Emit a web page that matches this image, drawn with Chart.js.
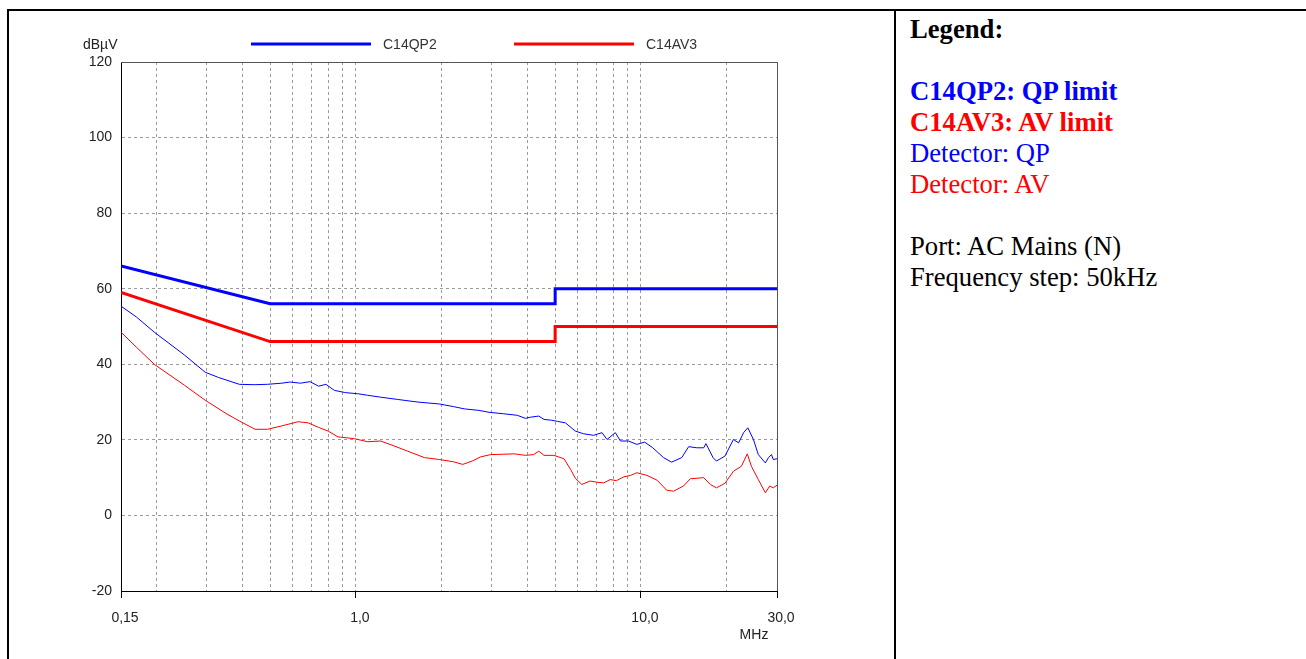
<!DOCTYPE html>
<html>
<head>
<meta charset="utf-8">
<script src="https://cdn.jsdelivr.net/npm/chart.js@4/dist/chart.umd.min.js"></script>
<style>
  body { margin: 0; background: #fff; width: 1306px; height: 659px; overflow: hidden; position: relative; }
  #wrap { position: absolute; left: 0; top: 0; width: 894px; height: 659px; }
  .rule { position: absolute; background: #000; }
  #notes {
    position: absolute; left: 910px; top: 14px;
    font-family: "Liberation Serif", "Times New Roman", serif;
    font-size: 26.67px; line-height: 31px; color: #000; white-space: nowrap;
  }
  #notes b { font-weight: bold; }
</style>
</head>
<body>
<div id="wrap"><canvas id="chart"></canvas></div>
<div class="rule" style="left:7px; top:9px; width:1299px; height:2px;"></div>
<div class="rule" style="left:7px; top:9px; width:2px; height:650px;"></div>
<div class="rule" style="left:894px; top:9px; width:2px; height:650px;"></div>
<div id="notes">
  <b>Legend:</b><br><br>
  <b style="color:#0000ff">C14QP2: QP limit</b><br>
  <b style="color:#ff0000">C14AV3: AV limit</b><br>
  <span style="color:#0000ff">Detector: QP</span><br>
  <span style="color:#ff0000">Detector: AV</span><br><br>
  Port: AC Mains (N)<br>
  Frequency step: 50kHz
</div>
<script>
// limit lines (MHz / dBµV)
const limitFreq = [0.15, 0.5, 5, 5, 30];
const qpLimit = [66, 56, 56, 60, 60];
const avLimit = [59, 46, 46, 50, 50];

// measured, quasi-peak detector
const qpFreq = [0.15, 0.17, 0.197, 0.25, 0.296, 0.33, 0.39, 0.44, 0.49, 0.55, 0.586, 0.64, 0.69, 0.74, 0.785, 0.84, 0.92,
  1.016, 1.1, 1.22, 1.4, 1.65, 1.96, 2.2, 2.4, 2.7, 2.93, 3.3, 3.68, 3.93, 4.1, 4.38, 4.57, 4.85, 5.09, 5.43, 5.89, 6.3,
  6.82, 7.3, 7.6, 8.13, 8.47, 9.04, 9.67, 10.3, 11.0, 12.0, 12.8, 13.9, 14.7, 15.7, 16.6, 16.9, 17.9, 18.4, 19.7, 21.1,
  22.0, 22.9, 23.7, 24.8, 25.8, 27.3, 28.0, 28.7, 29.1, 30];
const qpLevel = [55.4, 52.5, 48.4, 42.5, 37.9, 36.5, 34.7, 34.6, 34.7, 35.0, 35.3, 35.0, 35.4, 34.2, 34.7, 33.1, 32.5,
  32.2, 31.8, 31.3, 30.7, 30.0, 29.5, 28.8, 28.2, 27.8, 27.3, 26.9, 26.5, 25.7, 26.0, 26.3, 25.4, 25.2, 24.9, 24.5, 22.3, 21.6,
  21.2, 21.9, 20.1, 21.9, 19.7, 19.7, 18.8, 19.4, 17.9, 15.3, 14.1, 15.3, 18.2, 17.9, 17.9, 19.0, 15.3, 14.4, 15.7, 20.1,
  19.2, 21.9, 23.2, 20.1, 16.1, 13.9, 15.3, 16.1, 14.8, 15.0];

// measured, average detector
const avFreq = [0.15, 0.17, 0.197, 0.25, 0.296, 0.35, 0.39, 0.443, 0.49, 0.55, 0.627, 0.68, 0.74, 0.8, 0.865, 0.99,
  1.1, 1.22, 1.35, 1.52, 1.74, 1.96, 2.2, 2.37, 2.56, 2.74, 2.97, 3.3, 3.59, 3.94, 4.2, 4.38, 4.57, 4.95, 5.37, 5.66,
  5.89, 6.2, 6.63, 7.0, 7.4, 7.8, 8.2, 8.7, 9.2, 9.67, 10.5, 11.4, 12.3, 13.0, 14.1, 14.9, 16.6, 17.5, 18.4, 19.7, 21.1,
  22.5, 23.6, 24.4, 25.8, 27.3, 28.3, 29.1, 30];
const avLevel = [48.5, 44.5, 39.9, 34.5, 30.5, 27.0, 25.0, 22.8, 22.8, 23.7, 24.8, 24.5, 23.3, 22.3, 20.8, 20.3,
  19.5, 19.7, 18.5, 17.0, 15.3, 14.8, 14.2, 13.5, 14.4, 15.5, 16.1, 16.2, 16.3, 15.9, 16.1, 17.0, 15.9, 15.9, 15.0, 12.2,
  9.8, 8.2, 9.1, 8.8, 8.6, 9.5, 9.2, 10.2, 10.6, 11.3, 10.6, 9.3, 6.7, 6.4, 7.8, 9.7, 10.0, 8.2, 7.3, 8.5, 11.7,
  13.0, 16.3, 13.0, 9.5, 6.0, 7.8, 7.3, 8.0];

// axes
const xGridValues = [0.15, 0.2, 0.3, 0.4, 0.5, 0.6, 0.7, 0.8, 0.9, 1, 2, 3, 4, 5, 6, 7, 8, 9, 10, 20, 30];
const xLabelValues = [0.15, 1, 10, 30];
const xLabelTexts = ["0,15", "1,0", "10,0", "30,0"];
const yUnit = "dBµV";
const xUnit = "MHz";

const BLUE = "#0000ff";
const RED = "#ff0000";
const TEXT = "#222";
const FONT = { family: '"Liberation Sans", Arial, sans-serif', size: 14 };

const pts = (xs, ys) => xs.map((x, i) => ({ x: x, y: ys[i] }));

// plot frame, unit captions and the line legend above the plot
const framePlugin = {
  id: "frame",
  afterDraw(chart) {
    const { ctx, chartArea: a } = chart;
    ctx.save();
    ctx.strokeStyle = "#555";
    ctx.lineWidth = 1;
    ctx.beginPath();
    ctx.moveTo(a.left, Math.round(a.top) + 0.5);
    ctx.lineTo(Math.round(a.right) + 0.5, Math.round(a.top) + 0.5);
    ctx.lineTo(Math.round(a.right) + 0.5, a.bottom);
    ctx.stroke();

    ctx.fillStyle = TEXT;
    ctx.font = FONT.size + "px " + FONT.family;
    ctx.textBaseline = "middle";
    ctx.textAlign = "left";
    ctx.fillText(yUnit, a.left - 38, a.top - 17);
    ctx.textAlign = "center";
    ctx.fillText(xUnit, a.right - 23, a.bottom + 44);

    ctx.textAlign = "left";
    chart.data.datasets.filter(d => d.inLegend).forEach((d, i) => {
      const x0 = a.left + 130 + i * 263;
      const y0 = a.top - 18;
      ctx.strokeStyle = d.borderColor;
      ctx.lineWidth = 3;
      ctx.beginPath();
      ctx.moveTo(x0, y0);
      ctx.lineTo(x0 + 120, y0);
      ctx.stroke();
      ctx.fillStyle = "#333";
      ctx.fillText(d.label, x0 + 132, y0 + 1);
    });
    ctx.restore();
  }
};

new Chart(document.getElementById("chart"), {
  type: "line",
  data: {
    datasets: [
      { label: "C14QP2", inLegend: true, data: pts(limitFreq, qpLimit), borderColor: BLUE, borderWidth: 3 },
      { label: "C14AV3", inLegend: true, data: pts(limitFreq, avLimit), borderColor: RED, borderWidth: 3 },
      { label: "QP", data: pts(qpFreq, qpLevel), borderColor: BLUE, borderWidth: 1 },
      { label: "AV", data: pts(avFreq, avLevel), borderColor: RED, borderWidth: 1 },
    ],
  },
  options: {
    responsive: true,
    maintainAspectRatio: false,
    animation: false,
    elements: { point: { radius: 0 }, line: { tension: 0 } },
    layout: { padding: { top: 62, right: 117, bottom: 0, left: 0 } },
    plugins: {
      legend: { display: false },
      tooltip: { enabled: false },
    },
    scales: {
      x: {
        type: "logarithmic",
        min: 0.15,
        max: 30,
        afterBuildTicks: (s) => { s.ticks = xGridValues.map(v => ({ value: v })); },
        afterFit: (s) => { s.height = 68; },
        ticks: {
          autoSkip: false,
          maxRotation: 0,
          minRotation: 0,
          padding: 12,
          labelOffset: 4,
          color: TEXT,
          font: FONT,
          callback: (v) => {
            const i = xLabelValues.indexOf(v);
            return i >= 0 ? xLabelTexts[i] : "";
          },
        },
        grid: {
          color: "#9a9a9a",
          lineWidth: 1,
          tickLength: 7,
          tickWidth: 1,
          tickBorderDash: [],
          tickColor: (c) => (c.tick && xLabelValues.includes(c.tick.value) ? "#000" : "rgba(0,0,0,0)"),
        },
        border: { color: "#000", width: 1, dash: [3, 3] },
      },
      y: {
        min: -20,
        max: 120,
        afterFit: (s) => { s.width = 121; },
        ticks: { stepSize: 20, padding: 9, color: TEXT, font: FONT },
        grid: { color: "#9a9a9a", lineWidth: 1, drawTicks: false },
        border: { color: "#000", width: 1, dash: [3, 3] },
      },
    },
  },
  plugins: [framePlugin],
});
</script>
</body>
</html>
